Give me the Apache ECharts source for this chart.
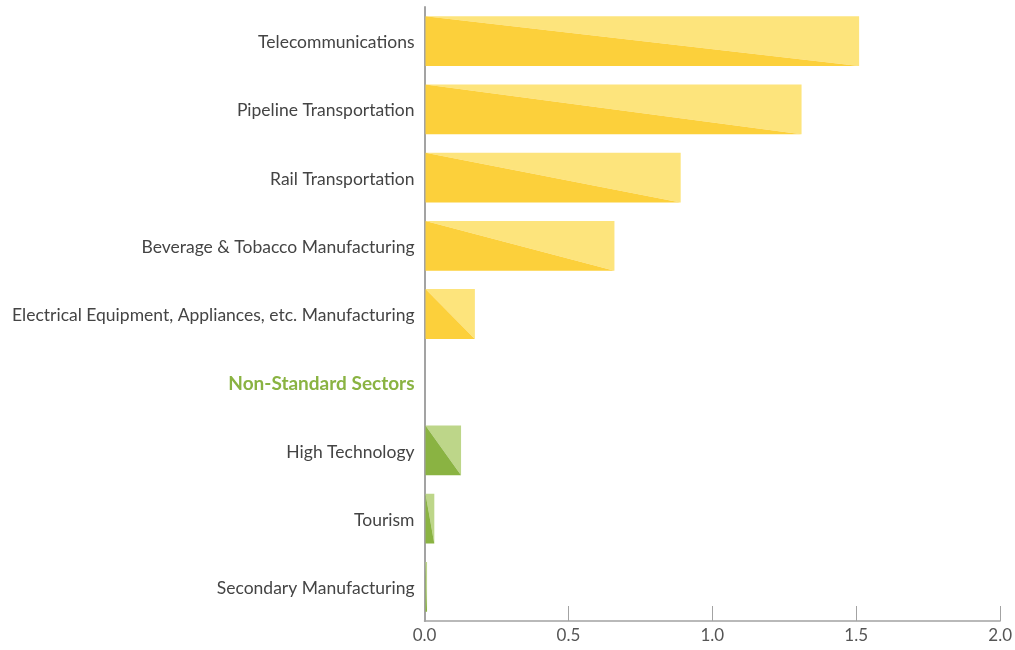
<!DOCTYPE html>
<html>
<head>
<meta charset="utf-8">
<script src="https://cdn.jsdelivr.net/npm/echarts@6/dist/echarts.min.js"></script>
<style>html,body{margin:0;padding:0;background:#fff}#c{width:1015px;height:650px}</style>
</head>
<body>
<div id="c"></div>
<script>
const categories = [
  "Telecommunications",
  "Pipeline Transportation",
  "Rail Transportation",
  "Beverage & Tobacco Manufacturing",
  "Electrical Equipment, Appliances, etc. Manufacturing",
  "Non-Standard Sectors",
  "High Technology",
  "Tourism",
  "Secondary Manufacturing"
];
const values = [1.51, 1.31, 0.89, 0.66, 0.175, null, 0.127, 0.034, 0.009];
const groups = ["standard","standard","standard","standard","standard","header","nonstandard","nonstandard","nonstandard"];
const xTicks = [0, 0.5, 1.0, 1.5, 2.0];

const palette = {
  standard: { dark: "#FCD03B", light: "#FDE47C" },
  nonstandard: { dark: "#8AB342", light: "#BDD689" }
};

const seriesData = [];
values.forEach((v, i) => { if (v !== null) seriesData.push([v, i, groups[i]]); });

const chart = echarts.init(document.getElementById('c'), null, { renderer: 'canvas' });
chart.setOption({
  animation: false,
  grid: { left: 424.5, right: 12, top: 7, bottom: 29 },
  xAxis: {
    type: 'value', min: xTicks[0], max: xTicks[xTicks.length - 1], interval: 0.5,
    axisLine: { show: true, lineStyle: { color: '#A3A3A3', width: 1.5 } },
    axisTick: { show: true, inside: true, length: 15, lineStyle: { color: '#A3A3A3', width: 1 } },
    splitLine: { show: false },
    axisLabel: { margin: 6, color: '#555', fontFamily: 'Lato', fontSize: 17,
      formatter: v => v.toFixed(1) }
  },
  yAxis: {
    type: 'category', data: categories, inverse: true,
    axisLine: { show: true, lineStyle: { color: '#A3A3A3', width: 2 } },
    axisTick: { show: false },
    axisLabel: {
      margin: 10, color: '#444', fontFamily: 'Lato', fontSize: 17.5, padding: [3, 0, 0, 0],
      formatter: (v) => v === "Non-Standard Sectors" ? '{h|' + v + '}' : v,
      rich: { h: { color: '#8AB342', fontWeight: 'bold', fontFamily: 'Lato', fontSize: 19 } }
    }
  },
  series: [{
    type: 'custom',
    data: seriesData,
    encode: { x: 0, y: 1 },
    renderItem: function (params, api) {
      const v = api.value(0), c = api.value(1);
      const g = seriesData[params.dataIndex][2];
      const p0 = api.coord([0, c]);
      const p1 = api.coord([v, c]);
      const h = api.size([0, 1])[1] * 0.73;
      const x0 = p0[0] + 1, x1 = p1[0], y0 = p0[1] - h / 2, y1 = p0[1] + h / 2;
      const col = palette[g];
      return {
        type: 'group',
        children: [
          { type: 'polygon', shape: { points: [[x0, y0], [x1, y0], [x1, y1]] }, style: { fill: col.light } },
          { type: 'polygon', shape: { points: [[x0, y0], [x1, y1], [x0, y1]] }, style: { fill: col.dark } }
        ]
      };
    }
  }]
});
</script>
</body>
</html>
